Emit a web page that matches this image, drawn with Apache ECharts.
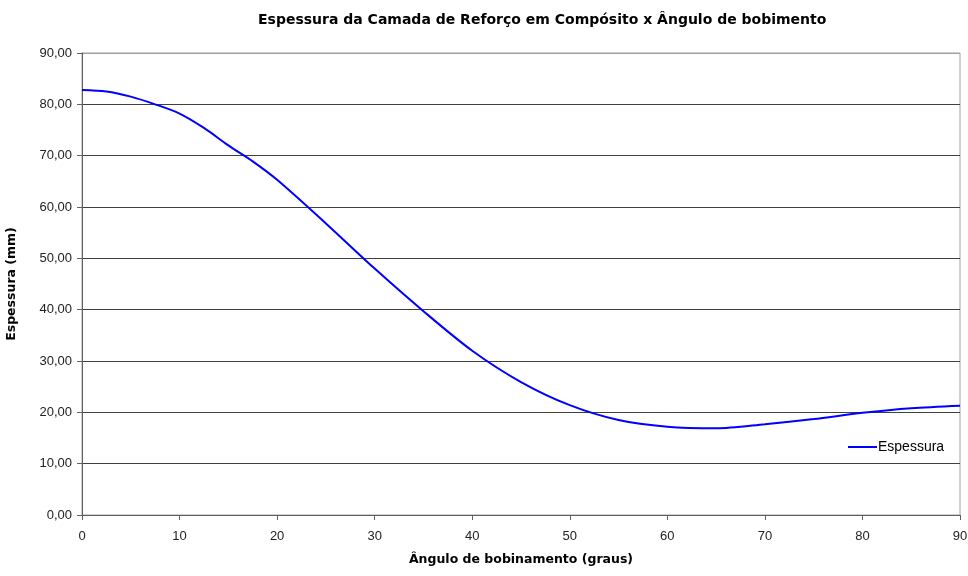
<!DOCTYPE html>
<html>
<head>
<meta charset="utf-8">
<script src="https://cdn.jsdelivr.net/npm/echarts@6/dist/echarts.min.js"></script>
<style>html,body{margin:0;padding:0;background:#fff}#c{width:968px;height:576px}</style>
</head>
<body>
<div id="c"></div>
<script>
const angles = [0, 2.5, 5, 7.5, 10, 12.5, 15, 17.5, 20, 25, 30, 35, 40, 45, 50, 55, 60, 65, 70, 75, 80, 85, 90];
const espessura = [82.8, 82.5, 81.5, 80.0, 78.2, 75.4, 72.0, 68.9, 65.3, 56.8, 48.0, 39.7, 32.0, 25.9, 21.4, 18.5, 17.2, 16.9, 17.7, 18.7, 19.9, 20.8, 21.3];
const titleText = 'Espessura da Camada de Reforço em Compósito x Ângulo de bobimento';
const xName = 'Ângulo de bobinamento (graus)';
const yName = 'Espessura (mm)';
const seriesName = 'Espessura';

const chart = echarts.init(document.getElementById('c'));
chart.setOption({
  animation: false,
  backgroundColor: '#fff',
  title: {
    text: titleText,
    left: 253,
    top: 8,
    textStyle: { fontFamily: 'DejaVu Sans', fontWeight: 'bold', fontSize: 14, color: '#000' }
  },
  legend: {
    left: 843,
    top: 435,
    itemWidth: 29,
    itemHeight: 2,
    itemGap: 4,
    icon: 'rect',
    textStyle: { fontFamily: 'Liberation Sans', fontSize: 14, color: '#000', padding: [0, 0, 0, -4] },
    data: [{ name: seriesName }]
  },
  grid: {
    left: 82, right: 8, top: 53, bottom: 61,
    outerBoundsMode: 'none',
    show: true, borderColor: '#a0a0a0', borderWidth: 1, containLabel: false
  },
  xAxis: {
    type: 'value', min: 0, max: 90, interval: 10,
    name: xName, nameLocation: 'middle', nameGap: 38,
    nameTextStyle: { fontFamily: 'DejaVu Sans', fontWeight: 'bold', fontSize: 12.5, color: '#000' },
    axisLine: { show: true, lineStyle: { color: '#606060', width: 1 } },
    axisTick: { show: true, inside: false, length: 5, lineStyle: { color: '#606060' } },
    axisLabel: { margin: 15, fontFamily: 'Liberation Sans', fontSize: 13, color: '#222' },
    splitLine: { show: false }
  },
  yAxis: {
    type: 'value', min: 0, max: 90, interval: 10,
    name: yName, nameLocation: 'middle', nameGap: 64, nameRotate: 90,
    nameTextStyle: { fontFamily: 'DejaVu Sans', fontWeight: 'bold', fontSize: 12.5, color: '#000' },
    axisLine: { show: true, lineStyle: { color: '#606060', width: 1 } },
    axisTick: { show: true, inside: false, length: 5, lineStyle: { color: '#606060' } },
    axisLabel: {
      margin: 10, fontFamily: 'Liberation Sans', fontSize: 13, color: '#222',
      formatter: v => v.toFixed(2).replace('.', ',')
    },
    splitLine: { show: true, lineStyle: { color: ['#404040','#404040','#404040','#404040','#404040','#404040','#404040','#404040','#404040','#a0a0a0'], width: 1 } }
  },
  series: [{
    name: seriesName,
    type: 'line',
    data: angles.map((a, i) => [a, espessura[i]]),
    smooth: 0.3,
    symbol: 'none',
    lineStyle: { color: '#0000ff', width: 2 },
    itemStyle: { color: '#0000ff' }
  }]
});
</script>
</body>
</html>
